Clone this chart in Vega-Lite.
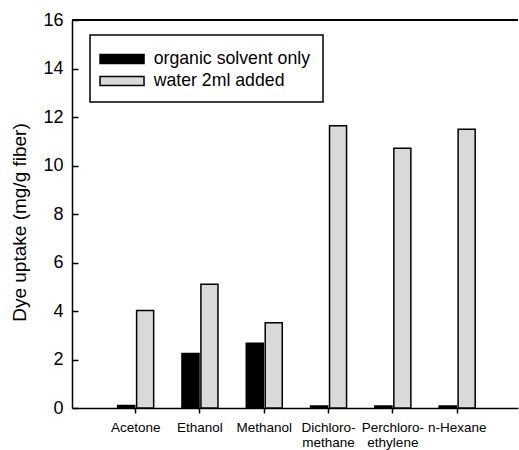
{
  "$schema": "https://vega.github.io/schema/vega-lite/v6.json",
  "autosize": "none",
  "width": 446,
  "height": 388,
  "padding": {"left": 72, "top": 20, "right": 1, "bottom": 42},
  "background": "white",
  "config": {
    "font": "Liberation Sans",
    "view": {"stroke": null},
    "legend": {"strokeWidth": 1.5},
    "axis": {"domainColor": "black", "tickColor": "black", "labelColor": "black", "titleColor": "black", "grid": false, "domainWidth": 1.5, "tickWidth": 1.5}
  },
  "data": {
    "values": [
      {"solvent": "Acetone", "condition": "organic solvent only", "uptake": 0.1},
      {"solvent": "Acetone", "condition": "water 2ml added", "uptake": 4.02},
      {"solvent": "Ethanol", "condition": "organic solvent only", "uptake": 2.25},
      {"solvent": "Ethanol", "condition": "water 2ml added", "uptake": 5.1},
      {"solvent": "Methanol", "condition": "organic solvent only", "uptake": 2.67},
      {"solvent": "Methanol", "condition": "water 2ml added", "uptake": 3.52},
      {"solvent": "Dichloromethane", "condition": "organic solvent only", "uptake": 0.08},
      {"solvent": "Dichloromethane", "condition": "water 2ml added", "uptake": 11.64},
      {"solvent": "Perchloroethylene", "condition": "organic solvent only", "uptake": 0.08},
      {"solvent": "Perchloroethylene", "condition": "water 2ml added", "uptake": 10.71},
      {"solvent": "n-Hexane", "condition": "organic solvent only", "uptake": 0.08},
      {"solvent": "n-Hexane", "condition": "water 2ml added", "uptake": 11.49}
    ]
  },
  "layer": [
    {
      "mark": {"type": "bar", "stroke": "black", "strokeWidth": 1.5},
      "encoding": {
        "x": {
          "field": "solvent",
          "type": "nominal",
          "sort": null,
          "scale": {"paddingInner": 0.44, "paddingOuter": 0.688, "align": 0.516},
          "axis": {
            "title": null,
            "labelAngle": 0,
            "labelFontSize": 13.5,
            "tickSize": 5,
            "labelPadding": 7,
            "labelLineHeight": 15,
            "labelExpr": "datum.value == 'Dichloromethane' ? ['Dichloro-', 'methane'] : datum.value == 'Perchloroethylene' ? ['Perchloro-', 'ethylene'] : datum.value"
          }
        },
        "xOffset": {"field": "condition", "type": "nominal", "scale": {"paddingInner": 0.1}},
        "y": {
          "field": "uptake",
          "type": "quantitative",
          "scale": {"domain": [0, 16], "nice": false},
          "axis": {
            "title": "Dye uptake (mg/g fiber)",
            "titleFontSize": 19,
            "titleFontWeight": "normal",
            "titleX": -43,
            "titleY": 202,
            "labelFontSize": 18,
            "labelPadding": 15,
            "tickSize": -6,
            "values": [0, 2, 4, 6, 8, 10, 12, 14, 16]
          }
        },
        "color": {
          "field": "condition",
          "type": "nominal",
          "scale": {"domain": ["organic solvent only", "water 2ml added"], "range": ["black", "#d9d9d9"]},
          "legend": {
            "title": null,
            "orient": "none",
            "legendX": 18,
            "legendY": 15,
            "direction": "vertical",
            "strokeColor": "black",
            "padding": 12,
            "rowPadding": 1,
            "symbolType": "M-1.27,-0.41H2.73V0.41H-1.27Z",
            "symbolSize": 484,
            "symbolStrokeColor": "black",
            "symbolStrokeWidth": 1.5,
            "symbolOpacity": 1,
            "labelFontSize": 17.7,
            "labelOffset": 27.7,
            "labelColor": "black",
            "labelLimit": 300
          }
        }
      }
    },
    {
      "mark": {"type": "rule", "color": "black", "strokeWidth": 1.5},
      "encoding": {"y": {"datum": 16}}
    }
  ]
}
